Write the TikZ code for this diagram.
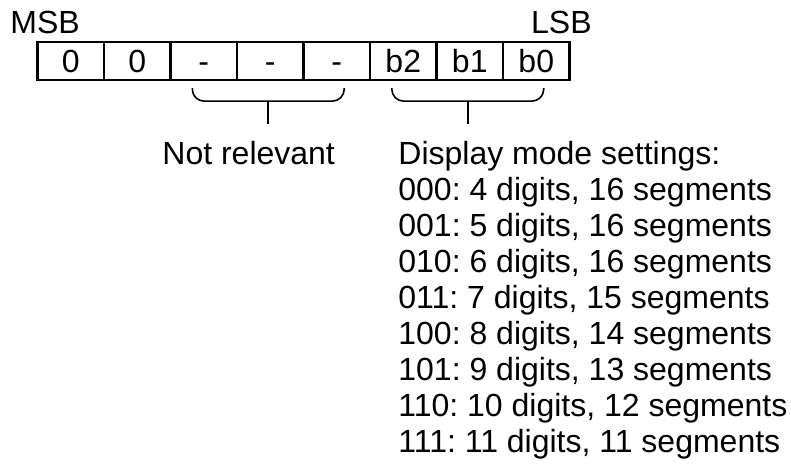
\documentclass[tikz,border=0pt]{standalone}
\usepackage{fontspec}
\setmainfont{Liberation Sans}
\usepackage{tikz}
\usetikzlibrary{positioning,calc}

\tikzset{
    cell/.style={draw, line width=1.2pt, minimum width=33.25pt, minimum height=19pt,
        inner sep=0pt, text height=11.5pt, text depth=0pt},
    brace/.style={line width=0.8pt, rounded corners=6pt},
    lbl/.style={inner sep=0pt, anchor=base west}
}

\begin{document}
\frenchspacing
\begin{tikzpicture}[font=\fontsize{16pt}{18pt}\selectfont]
    \useasboundingbox (0,0) rectangle (395.5pt,232pt);
    % register bits, MSB first
    \foreach \t [count=\i from 0] in {0,0,-,-,-,b2,b1,b0}
        \node[cell] (c\i) at ({18.75pt+(\i+0.5)*33.25pt},201.5pt) {\t};
    \node[inner sep=0pt, anchor=base west] (msb) at (5pt,215pt) {MSB};
    \node[inner sep=0pt, anchor=base east] (lsb) at (296pt,215pt) {LSB};

    % braces under the bit groups
    \coordinate (nrL) at ([xshift=11.5pt,yshift=-3.5pt]c2.south west);
    \coordinate (nrR) at ([xshift=-13.5pt,yshift=-3.5pt]c4.south east);
    \coordinate (dmL) at ([xshift=11.5pt,yshift=-3.5pt]c5.south west);
    \coordinate (dmR) at ([xshift=-13.5pt,yshift=-3.5pt]c7.south east);
    \draw[brace] (nrL) -- ++(0,-6.5pt) -| (nrR);
    \draw[brace] (dmL) -- ++(0,-6.5pt) -| (dmR);
    \coordinate (nrM) at ($(nrL)!0.5!(nrR)+(0,-6.5pt)$);
    \coordinate (dmM) at ($(dmL)!0.5!(dmR)+(0,-6.5pt)$);
    \draw[line width=0.8pt] (nrM) -- ++(0,-11.5pt) coordinate (nrE);
    \draw[line width=0.8pt] (dmM) -- ++(0,-11.5pt) coordinate (dmE);

    \node[lbl] (notrel) at (81pt,149.5pt) {Not relevant};
    \foreach \s [count=\k from 0] in {Display mode settings:,
            {000: 4 digits, 16 segments}, {001: 5 digits, 16 segments},
            {010: 6 digits, 16 segments}, {011: 7 digits, 15 segments},
            {100: 8 digits, 14 segments}, {101: 9 digits, 13 segments},
            {110: 10 digits, 12 segments}, {111: 11 digits, 11 segments}}
        \node[lbl] (mode\k) at (199pt,{149.5pt-\k*18pt}) {\s};
\end{tikzpicture}
\end{document}
